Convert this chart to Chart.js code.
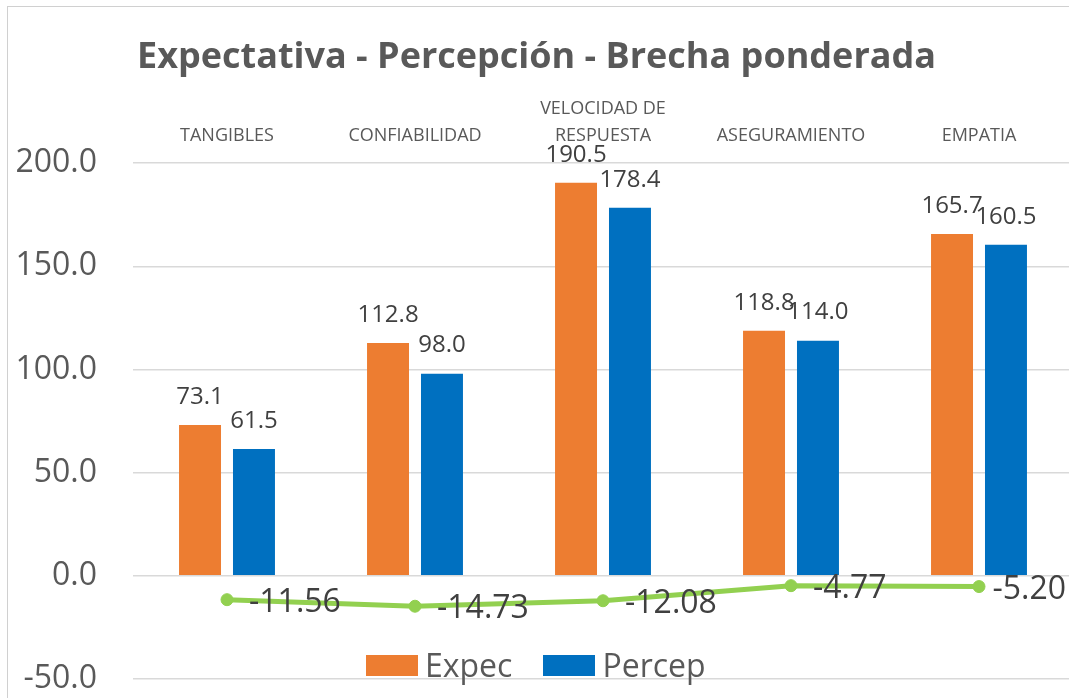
<!DOCTYPE html>
<html lang="es">

<head>
    <meta charset="UTF-8">
    <meta name="viewport" content="width=device-width, initial-scale=1.0">
    <title>Expectativa - Percepción - Brecha ponderada</title>
    <script src="https://cdn.jsdelivr.net/npm/chart.js@4.4.1/dist/chart.umd.min.js"></script>
    <style>
        body { margin: 0; background: #fff; overflow: hidden; font-family: 'Open Sans', sans-serif; }
        #frame { position: absolute; left: 7px; top: 6px; width: 1200px; height: 800px;
                 border-left: 1px solid #d0d0d0; border-top: 1px solid #d0d0d0; }
        #wrap { position: absolute; left: 0; top: 0; width: 1085px; height: 698px; }
        #legend { position: absolute; top: 645px; left: 366px; display: flex; align-items: center;
                  font-size: 32px; color: #595959; line-height: 40px; }
        #legend span.box { display: inline-block; width: 52px; height: 21px; margin-right: 7px; }
        #legend span.item { display: flex; align-items: center; margin-right: 31px; }
    </style>
</head>

<body>
    <div id="frame"></div>
    <div id="wrap">
        <canvas id="chart"></canvas>
    </div>
    <div id="legend"></div>

    <script>
        const categories = ['TANGIBLES', 'CONFIABILIDAD', ['VELOCIDAD DE', 'RESPUESTA'], 'ASEGURAMIENTO', 'EMPATIA'];
        const expec = [73.1, 112.8, 190.5, 118.8, 165.7];
        const percep = [61.5, 98.0, 178.4, 114.0, 160.5];
        const brecha = [-11.56, -14.73, -12.08, -4.77, -5.20];
        const yTicks = [-50, 0, 50, 100, 150, 200];

        Chart.defaults.font.family = "'Open Sans', sans-serif";

        // value above each bar, gap value to the right of each point
        const valueLabels = {
            id: 'valueLabels',
            afterDatasetsDraw(chart) {
                const ctx = chart.ctx;
                chart.data.datasets.forEach((ds, i) => {
                    const meta = chart.getDatasetMeta(i);
                    meta.data.forEach((el, j) => {
                        const v = ds.data[j];
                        ctx.save();
                        ctx.fillStyle = '#404040';
                        ctx.textBaseline = 'middle';
                        if (ds.type === 'line') {
                            const txt = v.toFixed(2);
                            ctx.font = "32px 'Open Sans'";
                            ctx.textAlign = 'left';
                            // keep the last label inside the visible area
                            const x = Math.min(el.x + 22, 1066 - ctx.measureText(txt).width);
                            ctx.fillText(txt, x, el.y + 3);
                        } else {
                            ctx.font = "24px 'Open Sans'";
                            ctx.textAlign = 'center';
                            ctx.fillText(v.toFixed(1), el.x, el.y - 28);
                        }
                        ctx.restore();
                    });
                });
            }
        };

        const ctx = document.getElementById('chart');

        const chart = new Chart(ctx, {
            type: 'bar',
            data: {
                labels: categories,
                datasets: [{
                    type: 'line',
                    label: 'Brecha',
                    data: brecha,
                    borderColor: '#92D050',
                    backgroundColor: '#92D050',
                    borderWidth: 5,
                    pointRadius: 6,
                    pointBorderWidth: 1,
                    tension: 0,
                    order: 0
                }, {
                    label: 'Expec',
                    data: expec,
                    backgroundColor: '#ED7D31',
                    categoryPercentage: 0.574,
                    barPercentage: 0.778,
                    order: 1
                }, {
                    label: 'Percep',
                    data: percep,
                    backgroundColor: '#0070C0',
                    categoryPercentage: 0.574,
                    barPercentage: 0.778,
                    order: 1
                }]
            },
            options: {
                responsive: true,
                maintainAspectRatio: false,
                animation: false,
                layout: { padding: { left: 0, right: 12, top: 0, bottom: 19 } },
                plugins: {
                    legend: { display: false },
                    tooltip: { enabled: false },
                    title: {
                        display: true,
                        text: 'Expectativa - Percepción - Brecha ponderada',
                        color: '#595959',
                        font: { size: 36, weight: 'bold' },
                        padding: { top: 36, bottom: 15 }
                    }
                },
                scales: {
                    x: {
                        position: 'top',
                        afterFit: (s) => { s.height = 69; },
                        grid: { display: false, drawTicks: false },
                        border: { display: false },
                        ticks: {
                            color: '#595959',
                            font: { size: 18, lineHeight: 1.5 },
                            padding: 14,
                            maxRotation: 0,
                            autoSkip: false
                        }
                    },
                    y: {
                        min: -50,
                        max: 200,
                        afterBuildTicks: (s) => { s.ticks = yTicks.map(v => ({ value: v })); },
                        afterFit: (s) => { s.width = 133; s.paddingTop = 0; s.paddingBottom = 0; },
                        grid: { color: '#d9d9d9', lineWidth: 1.5, drawTicks: false },
                        border: { display: false },
                        ticks: {
                            color: '#595959',
                            font: { size: 32 },
                            padding: 36,
                            callback: (v) => Number(v).toFixed(1)
                        }
                    }
                }
            },
            plugins: [valueLabels]
        });

        // legend for the two bar series only
        const legend = document.getElementById('legend');
        chart.data.datasets.filter(ds => ds.type !== 'line').forEach(ds => {
            const item = document.createElement('span');
            item.className = 'item';
            const box = document.createElement('span');
            box.className = 'box';
            box.style.background = ds.backgroundColor;
            item.appendChild(box);
            item.appendChild(document.createTextNode(ds.label));
            legend.appendChild(item);
        });
    </script>

</body>

</html>
